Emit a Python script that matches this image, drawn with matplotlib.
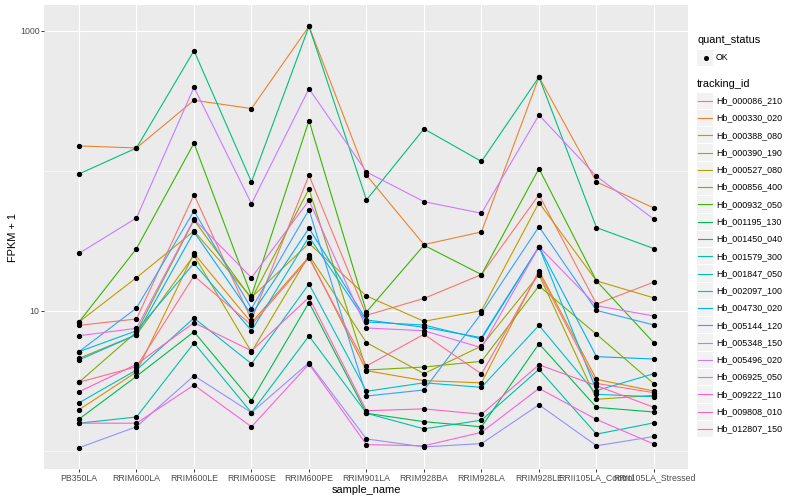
import matplotlib
matplotlib.use("Agg")
import matplotlib.pyplot as plt
from matplotlib.lines import Line2D
from matplotlib.patches import Rectangle
from matplotlib.ticker import FixedLocator, NullFormatter

plt.rcParams['font.family'] = ['Liberation Sans', 'DejaVu Sans']

samples = ["PB350LA", "RRIM600LA", "RRIM600LE", "RRIM600SE", "RRIM600PE",
           "RRIM901LA", "RRIM928BA", "RRIM928LA", "RRIM928LE",
           "RRII105LA_Control", "RRII105LA_Stressed"]

tracking_ids = ["Hb_000086_210", "Hb_000330_020", "Hb_000388_080", "Hb_000390_190",
                "Hb_000527_080", "Hb_000856_400", "Hb_000932_050", "Hb_001195_130",
                "Hb_001450_040", "Hb_001579_300", "Hb_001847_050", "Hb_002097_100",
                "Hb_004730_020", "Hb_005144_120", "Hb_005348_150", "Hb_005496_020",
                "Hb_006925_050", "Hb_009222_110", "Hb_009808_010", "Hb_012807_150"]

# FPKM + 1 values per gene, in sample order
hb_000086_210 = [7.90, 8.77, 67.7, 8.63, 93.2, 9.32, 12.3, 18.2, 67.7, 11.2, 16.1]
hb_000330_020 = [151, 146, 320, 279, 1080, 93.2, 29.8, 36.7, 469, 83.5, 54.4]
hb_000388_080 = [1.97, 3.67, 25.8, 8.25, 24.4, 3.75, 3.18, 3.07, 19.4, 3.25, 2.68]
hb_000390_190 = [8.35, 17.3, 37.3, 12.5, 30.4, 12.8, 8.44, 10.05, 59.4, 16.4, 12.4]
hb_000527_080 = [4.59, 6.77, 25.0, 5.10, 25.0, 5.94, 3.57, 5.62, 18.2, 2.34, 2.50]
hb_000856_400 = [3.10, 7.08, 44.7, 12.2, 74.3, 3.79, 3.98, 4.37, 15.1, 6.82, 3.02]
hb_000932_050 = [8.35, 27.9, 158, 12.8, 229, 9.84, 29.5, 18.2, 104, 16.4, 5.91]
hb_001195_130 = [1.69, 3.42, 7.11, 2.29, 11.5, 1.86, 1.62, 1.49, 5.84, 2.05, 1.90]
hb_001450_040 = [95.2, 146, 723, 83.5, 1080, 62.1, 200, 117, 469, 39.4, 27.9]
hb_001579_300 = [1.58, 1.75, 5.91, 1.88, 6.63, 1.86, 1.44, 1.66, 3.83, 1.32, 1.59]
hb_001847_050 = [2.21, 3.79, 8.91, 4.20, 15.6, 2.67, 3.07, 2.85, 7.90, 2.54, 2.44]
hb_002097_100 = [5.12, 7.23, 21.9, 7.23, 33.9, 8.35, 7.94, 6.31, 28.8, 2.70, 3.57]
hb_004730_020 = [4.47, 6.77, 36.7, 9.41, 39.0, 8.63, 7.65, 6.45, 28.8, 4.72, 4.54]
hb_005144_120 = [5.12, 10.5, 51.8, 10.4, 52.9, 2.47, 2.73, 9.63, 40.0, 10.1, 7.94]
hb_005348_150 = [1.056, 1.49, 3.45, 1.88, 4.27, 1.22, 1.07, 1.13, 2.14, 1.09, 1.27]
hb_005496_020 = [25.8, 46.2, 396, 58.4, 387, 98.4, 60.4, 49.9, 251, 91.7, 45.2]
hb_006925_050 = [6.66, 7.52, 45.2, 17.3, 61.6, 7.56, 7.23, 5.47, 28.8, 10.9, 9.21]
hb_009222_110 = [1.58, 1.58, 2.96, 1.49, 4.18, 1.11, 1.09, 1.36, 2.80, 1.68, 1.12]
hb_009808_010 = [2.65, 4.16, 8.25, 5.20, 12.5, 1.94, 2.00, 1.83, 4.13, 2.93, 2.05]
hb_012807_150 = [3.10, 4.00, 17.8, 7.94, 23.9, 4.05, 6.82, 3.55, 18.8, 3.04, 2.61]

series = [hb_000086_210, hb_000330_020, hb_000388_080, hb_000390_190, hb_000527_080,
          hb_000856_400, hb_000932_050, hb_001195_130, hb_001450_040, hb_001579_300,
          hb_001847_050, hb_002097_100, hb_004730_020, hb_005144_120, hb_005348_150,
          hb_005496_020, hb_006925_050, hb_009222_110, hb_009808_010, hb_012807_150]

colors = ["#F8766D", "#EA8331", "#D89000", "#C09B00", "#A3A500", "#7CAE00", "#39B600",
          "#00BB4E", "#00BF7D", "#00C1A3", "#00BFC4", "#00BAE0", "#00B0F6", "#35A2FF",
          "#9590FF", "#C77CFF", "#E76BF3", "#FA62DB", "#FF62BC", "#FF6C91"]

W, H = 800, 500
fig = plt.figure(figsize=(W / 100, H / 100), dpi=100)
ax = fig.add_axes([0.0556, 0.0624, 0.805, 0.9272])
ax.set_facecolor('#EBEBEB')
for s in ax.spines.values():
    s.set_visible(False)

xs = list(range(len(samples)))
for vals, c in zip(series, colors):
    ax.plot(xs, vals, color=c, lw=0.8, zorder=3)
for vals in series:
    ax.plot(xs, vals, ls='', marker='o', ms=2.8, color='black', zorder=4)

ax.set_yscale('log')
ax.set_ylim(10 ** -0.127, 10 ** 3.184)
ax.set_xlim(-0.6, len(samples) - 1 + 0.6)
ax.yaxis.set_major_locator(FixedLocator([10, 1000]))
ax.set_yticklabels(["10", "1000"])
ax.yaxis.set_minor_locator(FixedLocator([1, 100]))
ax.yaxis.set_minor_formatter(NullFormatter())
ax.set_xticks(xs)
ax.set_xticklabels(samples)

ax.grid(which='major', color='white', lw=0.8, zorder=1)
ax.grid(which='minor', axis='y', color='white', lw=0.4, zorder=1)
ax.set_axisbelow(True)
ax.tick_params(which='major', length=2.0, width=0.7, color='#333333',
               labelcolor='#4D4D4D', labelsize=6.3, pad=1.5)
ax.tick_params(which='minor', length=0)

ax.set_xlabel("sample_name", fontsize=7.9, color='black', labelpad=2)
ax.set_ylabel("FPKM + 1", fontsize=7.9, color='black', labelpad=1.5)

# ---- ggplot-style legends (drawn in figure pixel space) ----
def fx(px):
    return px / W

def fy(py):
    return 1 - py / H

key_bg = '#F2F2F2'
key_left, key_size = 697.0, 17.28
text_left = 716.0

def draw_key(center_y):
    fig.add_artist(Rectangle((fx(key_left), fy(center_y + key_size / 2 - 0.5)),
                             (key_size - 1) / W, (key_size - 1) / H,
                             transform=fig.transFigure, facecolor=key_bg,
                             edgecolor='none'))

fig.text(fx(697), fy(40), "quant_status", fontsize=7.9, ha='left', va='center')
draw_key(58)
fig.add_artist(Line2D([fx(key_left + key_size / 2)], [fy(58)], transform=fig.transFigure,
                      ls='', marker='o', ms=2.6, color='black'))
fig.text(fx(text_left), fy(58), "OK", fontsize=6.3, ha='left', va='center')

fig.text(fx(697), fy(84), "tracking_id", fontsize=7.9, ha='left', va='center')
for i, (name, c) in enumerate(zip(tracking_ids, colors)):
    cy = 100.7 + i * key_size
    draw_key(cy)
    fig.add_artist(Line2D([fx(key_left + 1.0), fx(key_left + key_size - 2.0)], [fy(cy), fy(cy)],
                          transform=fig.transFigure, color=c, lw=0.8))
    fig.text(fx(text_left), fy(cy), name, fontsize=6.4, ha='left', va='center')

fig.savefig("out.png", dpi=100)
